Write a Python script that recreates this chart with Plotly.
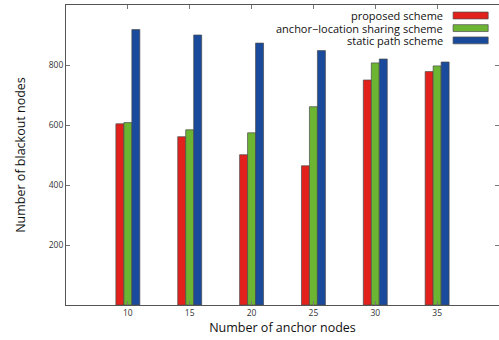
import plotly.graph_objects as go

anchors = [10, 15, 20, 25, 30, 35]
series_names = ["proposed scheme", "anchor\u2212location sharing scheme", "static path scheme"]
proposed = [604, 561, 501, 464, 750, 778]
anchor_sharing = [608, 584, 574, 661, 807, 797]
static_path = [918, 900, 873, 848, 820, 810]
y_tickvals = [200, 400, 600, 800, 1000]
y_ticktext = ["200", "400", "600", "800", "1,000"]
x_ticktext = ["10", "15", "20", "25", "30", "35"]

colors = ["#e3211c", "#6cb533", "#1a4a9b"]
values = [proposed, anchor_sharing, static_path]

fig = go.Figure()
for name, vals, c in zip(series_names, values, colors):
    fig.add_trace(go.Bar(x=anchors, y=vals, name=name, marker=dict(color=c, line=dict(color="#4a4a4a", width=0.7)),
                         showlegend=False))

font_family = "Open Sans, DejaVu Sans, sans-serif"

# legend drawn at the top right: text right-aligned, swatch on the right
row_y = [0.965, 0.923, 0.882]
for name, c, yy in zip(series_names, colors, row_y):
    fig.add_annotation(x=0.875, y=yy, xref="paper", yref="paper", text=name, showarrow=False,
                       xanchor="right", yanchor="middle", font=dict(size=11, color="#111", family=font_family))
    fig.add_shape(type="rect", xref="paper", yref="paper", x0=0.894, x1=0.975, y0=yy - 0.0115, y1=yy + 0.0115,
                  fillcolor=c, line=dict(color="#4a4a4a", width=0.7))

fig.update_layout(
    width=499, height=340,
    margin=dict(l=66, r=0, t=5, b=35),
    paper_bgcolor="white", plot_bgcolor="white",
    barmode="group", bargap=0.613, bargroupgap=0,
    font=dict(family=font_family, color="#222"),
)
fig.update_xaxes(range=[5, 40], tickvals=anchors, ticktext=x_ticktext, ticks="inside", ticklen=4,
                 tickcolor="#777", showline=True, linecolor="#555", linewidth=1, mirror="ticks",
                 showgrid=False, zeroline=False, tickfont=dict(size=8.5, color="#333"),
                 title=dict(text="Number of anchor nodes", font=dict(size=12.5, color="#111"), standoff=6))
fig.update_yaxes(range=[0, 1000], tickvals=y_tickvals, ticktext=y_ticktext, ticks="inside", ticklen=4,
                 tickcolor="#777", showline=True, linecolor="#555", linewidth=1, mirror="ticks",
                 showgrid=False, zeroline=False, tickfont=dict(size=8.5, color="#333"),
                 title=dict(text="Number of blackout nodes", font=dict(size=12.5, color="#111"), standoff=20))

fig.write_html("out.html", config={"displayModeBar": False})

# remove the default page margin so the figure sits at the window's top-left corner
with open("out.html", "r", encoding="utf-8") as f:
    html = f.read()
html = html.replace("<head>", "<head><style>html,body{margin:0;padding:0;overflow:hidden;}</style>", 1)
with open("out.html", "w", encoding="utf-8") as f:
    f.write(html)
